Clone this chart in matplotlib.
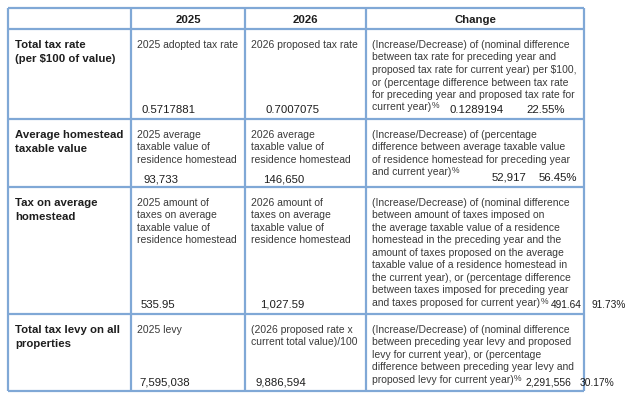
import matplotlib.pyplot as plt

plt.rcParams['font.family'] = ['Liberation Sans', 'DejaVu Sans']

headers = ["2025", "2026", "Change"]

row_labels = [
    ["Total tax rate", "(per $100 of value)"],
    ["Average homestead", "taxable value"],
    ["Tax on average", "homestead"],
    ["Total tax levy on all", "properties"],
]

desc_2025 = [
    ["2025 adopted tax rate"],
    ["2025 average", "taxable value of", "residence homestead"],
    ["2025 amount of", "taxes on average", "taxable value of", "residence homestead"],
    ["2025 levy"],
]

desc_2026 = [
    ["2026 proposed tax rate"],
    ["2026 average", "taxable value of", "residence homestead"],
    ["2026 amount of", "taxes on average", "taxable value of", "residence homestead"],
    ["(2026 proposed rate x", "current total value)/100"],
]

# last line of each cell ends with a small raised "%"
desc_change = [
    ["(Increase/Decrease) of (nominal difference",
     "between tax rate for preceding year and",
     "proposed tax rate for current year) per $100,",
     "or (percentage difference between tax rate",
     "for preceding year and proposed tax rate for",
     "current year)"],
    ["(Increase/Decrease) of (percentage",
     "difference between average taxable value",
     "of residence homestead for preceding year",
     "and current year)"],
    ["(Increase/Decrease) of (nominal difference",
     "between amount of taxes imposed on",
     "the average taxable value of a residence",
     "homestead in the preceding year and the",
     "amount of taxes proposed on the average",
     "taxable value of a residence homestead in",
     "the current year), or (percentage difference",
     "between taxes imposed for preceding year",
     "and taxes proposed for current year)"],
    ["(Increase/Decrease) of (nominal difference",
     "between preceding year levy and proposed",
     "levy for current year), or (percentage",
     "difference between preceding year levy and",
     "proposed levy for current year)"],
]

values_2025 = ["0.5717881", "93,733", "535.95", "7,595,038"]
values_2026 = ["0.7007075", "146,650", "1,027.59", "9,886,594"]
change_nominal = ["0.1289194", "52,917", "491.64", "2,291,556"]
change_pct = ["22.55%", "56.45%", "91.73%", "30.17%"]

# layout (pixels)
col_x = [8, 131, 245, 366, 584]
row_y = [9, 30, 120, 188, 315, 392]
line_h = 12.5
val_y = [110, 180, 305, 383]
x_2025 = [141, 143, 141, 139]
x_2026 = [265, 263, 260, 255]
x_nom = [449, 492, 551, 526]
x_pct = [526, 539, 592, 580]
y_chg_val = [110, 178, 305, 383]
chg_size = [8.2, 8.2, 7.3, 7.4]

border = '#80a8d6'
txt = '#3a3a3a'
dark = '#1e1e1e'
body = 7.45
big = 8.2

fig = plt.figure(figsize=(6.28, 4.02), dpi=100)
ax = fig.add_axes([0, 0, 1, 1])
ax.set_xlim(0, 628)
ax.set_ylim(402, 0)
ax.axis('off')
renderer = fig.canvas.get_renderer()

for x in col_x:
    ax.plot([x, x], [row_y[0], row_y[-1]], color=border, lw=1.6, solid_capstyle='butt')
for y in row_y:
    ax.plot([col_x[0], col_x[-1]], [y, y], color=border, lw=1.6, solid_capstyle='butt')

for i, h in enumerate(headers):
    cx = (col_x[i + 1] + col_x[i + 2]) / 2
    ax.text(cx, 20, h, ha='center', va='center', fontsize=big, fontweight='bold', color=dark)

for r in range(4):
    top = row_y[r + 1] + 15
    for k, s in enumerate(row_labels[r]):
        ax.text(15, top + k * 14, s, ha='left', va='center', fontsize=big,
                fontweight='bold', color=dark)
    for k, s in enumerate(desc_2025[r]):
        ax.text(137, top + k * line_h, s, ha='left', va='center', fontsize=body, color=txt)
    for k, s in enumerate(desc_2026[r]):
        ax.text(251, top + k * line_h, s, ha='left', va='center', fontsize=body, color=txt)
    for k, s in enumerate(desc_change[r]):
        t = ax.text(372, top + k * line_h, s, ha='left', va='center', fontsize=body, color=txt)
    # small raised percent sign after the last line
    bb = t.get_window_extent(renderer=renderer)
    ax.text(bb.x1 + 0.3, top + (len(desc_change[r]) - 1) * line_h - 1.5, "%",
            ha='left', va='center', fontsize=6.2, color=txt)
    ax.text(x_2025[r], val_y[r], values_2025[r], ha='left', va='center', fontsize=big, color=dark)
    ax.text(x_2026[r], val_y[r], values_2026[r], ha='left', va='center', fontsize=big, color=dark)
    ax.text(x_nom[r], y_chg_val[r], change_nominal[r], ha='left', va='center',
            fontsize=chg_size[r], color=dark)
    ax.text(x_pct[r], y_chg_val[r], change_pct[r], ha='left', va='center',
            fontsize=chg_size[r], color=dark)

fig.savefig('out.png', dpi=100)
